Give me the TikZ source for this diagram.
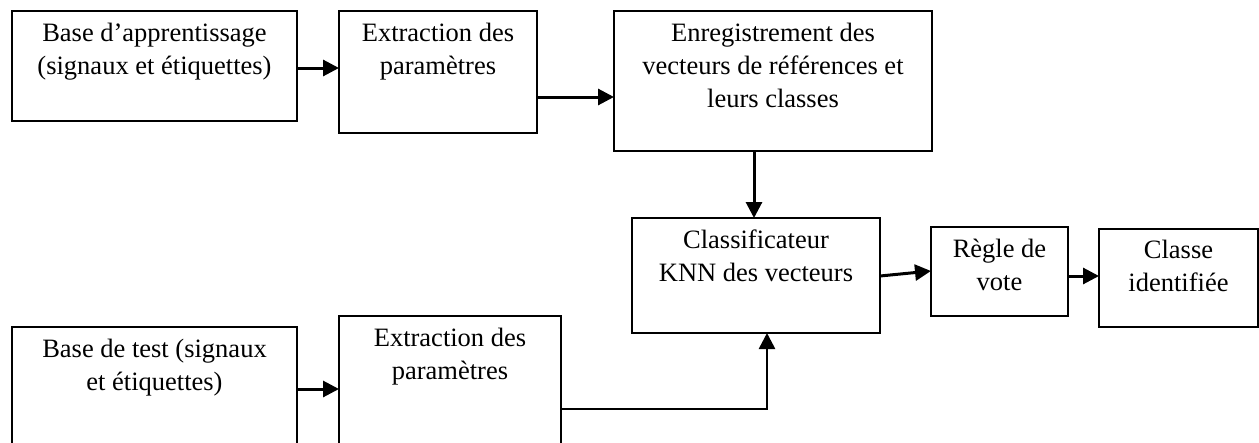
\documentclass[tikz,border=0pt]{standalone}
\usepackage{fontspec}
\setmainfont{Liberation Serif}
\usetikzlibrary{arrows.meta,calc}
\begin{document}
\begin{tikzpicture}[x=1pt,y=-1pt,
  box/.style={draw, line width=2.4pt, rectangle, inner sep=0pt, outer sep=0pt, anchor=north west},
  lbl/.style={anchor=north, align=center, inner sep=0pt,
    font=\fontsize{26.5}{33}\selectfont, execute at begin node=\strut},
  conn/.style={line width=3pt, -{Triangle[length=16pt,width=16pt]}},
  longconn/.style={line width=2.6pt, -{Triangle[length=16pt,width=16pt]}}]
\useasboundingbox (0,0) rectangle (1259,442);
\clip (0,0) rectangle (1259,442);

% blocks
\node[box, minimum width=285pt, minimum height=110pt] (b1) at (12,11) {};
\node[box, minimum width=198pt, minimum height=122pt] (b2) at (339,11) {};
\node[box, minimum width=318pt, minimum height=140pt] (b3) at (614,11) {};
\node[box, minimum width=248pt, minimum height=115pt] (b4) at (632,218) {};
\node[box, minimum width=137pt, minimum height=89pt] (b5) at (931,227) {};
\node[box, minimum width=159pt, minimum height=98pt] (b6) at (1099,229) {};
\node[box, minimum width=285pt, minimum height=150pt] (b7) at (12,327) {};
\node[box, minimum width=222pt, minimum height=150pt] (b8) at (339,316) {};

% block texts (first baseline about 35pt below the top edge)
\node[lbl] (t1) at ($(b1.north)+(0,12)$) {Base d’apprentissage\\(signaux et étiquettes)};
\node[lbl] (t2) at ($(b2.north)+(0,12)$) {Extraction des\\paramètres};
\node[lbl] (t3) at ($(b3.north)+(0,12)$) {Enregistrement des\\vecteurs de références et\\leurs classes};
\node[lbl] (t4) at ($(b4.north)+(0,12)$) {Classificateur\\KNN des vecteurs};
\node[lbl] (t5) at ($(b5.north)+(0,12)$) {Règle de\\vote};
\node[lbl] (t6) at ($(b6.north)+(0,11)$) {Classe\\identifiée};
\node[lbl] (t7) at ($(b7.north)+(0,12)$) {Base de test (signaux\\et étiquettes)};
\node[lbl] (t8) at ($(b8.north)+(0,12)$) {Extraction des\\paramètres};

% connectors
\draw[conn] (b1.east |- 0,68) -- (b2.west |- 0,68);
\draw[conn] (b2.east |- 0,97) -- (b3.west |- 0,97);
\draw[conn] (b3.south -| 754,0) -- (b4.north -| 754,0);
\draw[conn] (b4.east |- 0,276) -- (b5.west |- 0,271);
\draw[conn] (b5.east |- 0,276) -- (b6.west |- 0,276);
\draw[conn] (b7.east |- 0,389) -- (b8.west |- 0,389);
\draw[longconn] (b8.east |- 0,409) -| (b4.south -| 767,0);
\end{tikzpicture}
\end{document}
